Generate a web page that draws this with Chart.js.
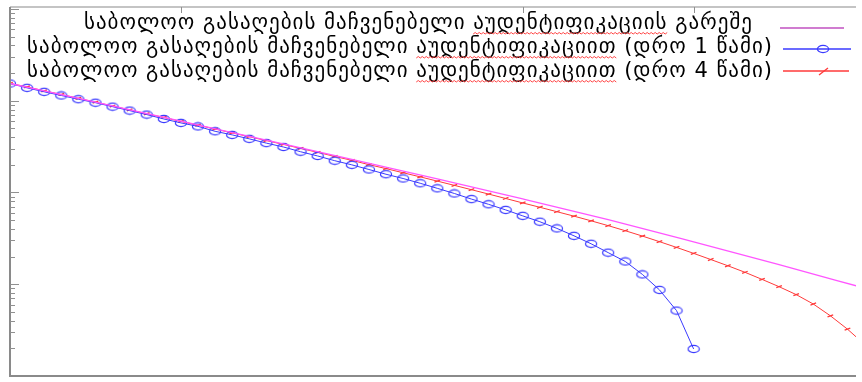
<!DOCTYPE html>
<html>
<head>
<meta charset="utf-8">
<title>გასაღების მაჩვენებელი</title>
<script src="https://cdn.jsdelivr.net/npm/chart.js"></script>
<style>
  html, body { margin: 0; padding: 0; background: #fff; }
  #wrap { width: 862px; height: 382px; }
</style>
</head>
<body>
<div id="wrap"><canvas id="keyChart" width="862" height="382"></canvas></div>
<script>
// series labels (legend)
const seriesNames = [
  'საბოლოო გასაღების მაჩვენებელი აუდენტიფიკაციის გარეშე',
  'საბოლოო გასაღების მაჩვენებელი აუდენტიფიკაციით (დრო 1 წამი)',
  'საბოლოო გასაღების მაჩვენებელი აუდენტიფიკაციით (დრო 4 წამი)'
];
// underlined (spell-check) word in each legend row
const markedWords = ['აუდენტიფიკაციის', 'აუდენტიფიკაციით', 'აუდენტიფიკაციით'];

// no authentication (magenta) - read every 5 steps
const stepsNoAuth = [0, 5, 10, 15, 20, 25, 30, 35, 40, 45, 50];
const rateNoAuth = [0.154, 0.0966, 0.0598, 0.0372, 0.0230, 0.01406, 0.00851, 0.00506, 0.00290, 0.00164, 0.000906];

// with authentication, 1 s (blue)
const steps1s = [0, 1, 2, 3, 4, 5, 6, 7, 8, 9, 10, 11, 12, 13, 14, 15, 16, 17, 18, 19, 20,
  21, 22, 23, 24, 25, 26, 27, 28, 29, 30, 31, 32, 33, 34, 35, 36, 37, 38, 39, 40];
const rate1s = [0.154, 0.138, 0.125, 0.114, 0.1038, 0.0951, 0.0861, 0.0780, 0.0706, 0.0632, 0.0573,
  0.0525, 0.0464, 0.0424, 0.0384, 0.0345, 0.0313, 0.0278, 0.0250, 0.0222, 0.0200,
  0.0178, 0.0158, 0.0142, 0.0126, 0.0111, 0.00975, 0.00847, 0.00743, 0.00646, 0.00556,
  0.00480, 0.00406, 0.00337, 0.00276, 0.00221, 0.00177, 0.00128, 0.000868, 0.000516, 0.000197];

// with authentication, 4 s (red)
const steps4s = [0, 1, 2, 3, 4, 5, 6, 7, 8, 9, 10, 11, 12, 13, 14, 15, 16, 17, 18, 19, 20,
  21, 22, 23, 24, 25, 26, 27, 28, 29, 30, 31, 32, 33, 34, 35, 36, 37, 38, 39, 40,
  41, 42, 43, 44, 45, 46, 47, 48, 49, 50];
const rate4s = [0.154, 0.1414, 0.1281, 0.1169, 0.1061, 0.0964, 0.0875, 0.0794, 0.0721, 0.0657, 0.0594,
  0.0541, 0.0491, 0.0446, 0.0405, 0.0368, 0.0334, 0.0302, 0.0274, 0.0247, 0.0224,
  0.0201, 0.0182, 0.0164, 0.0148, 0.0133, 0.01195, 0.01072, 0.00961, 0.00860, 0.00769,
  0.00690, 0.00617, 0.00552, 0.00491, 0.00435, 0.00383, 0.00335, 0.00291, 0.00252, 0.00217,
  0.00186, 0.00159, 0.00135, 0.00113, 0.000940, 0.000771, 0.000609, 0.000453, 0.000324, 0.000221];

// mirrored x ticks on the top border
const topTicks = [10, 30, 40];

const colNoAuth = '#ff55ff';
const col1s = '#3a3aff';
const col4s = '#ff3a3a';

const toXY = (xs, ys) => xs.map((x, i) => ({ x: x, y: ys[i] }));

// ellipse marker like the gnuplot circle
const ring = document.createElement('canvas');
ring.width = 14; ring.height = 10;
(function () {
  const c = ring.getContext('2d');
  c.strokeStyle = col1s;
  c.lineWidth = 1.2;
  c.beginPath();
  c.ellipse(7, 5, 5.6, 3.6, 0, 0, Math.PI * 2);
  c.stroke();
})();

const FONT = '21px "DejaVu Sans"';

const framePlugin = {
  id: 'frame',
  afterDraw(chart) {
    const { ctx, chartArea: a, scales } = chart;
    const ys = scales.y, xs = scales.x;
    ctx.save();
    // borders
    ctx.lineWidth = 1.5;
    ctx.strokeStyle = '#b0b0b0';
    ctx.beginPath(); ctx.moveTo(a.left, a.top); ctx.lineTo(a.right, a.top); ctx.stroke();
    ctx.strokeStyle = '#8a8a8a';
    ctx.lineWidth = 2;
    ctx.beginPath(); ctx.moveTo(a.left, a.top); ctx.lineTo(a.left, a.bottom); ctx.lineTo(a.right, a.bottom); ctx.stroke();
    // log ticks on left axis
    ctx.lineWidth = 1;
    ctx.strokeStyle = '#909090';
    for (let d = -4; d <= 0; d++) {
      for (let m = 1; m <= 9; m++) {
        const v = m * Math.pow(10, d);
        if (v <= ys.min || v >= ys.max) continue;
        const y = Math.round(ys.getPixelForValue(v)) + 0.5;
        ctx.beginPath();
        ctx.moveTo(a.left, y);
        ctx.lineTo(a.left + (m === 1 ? 9 : 5), y);
        ctx.stroke();
      }
    }
    // top ticks
    topTicks.forEach(t => {
      const x = Math.round(xs.getPixelForValue(t)) + 0.5;
      ctx.beginPath(); ctx.moveTo(x, a.top); ctx.lineTo(x, a.top + 6); ctx.stroke();
    });

    // gnuplot style key: text right aligned, sample after it
    const rows = [
      { y: 24, right: 753, lineY: 28 },
      { y: 48, right: 773, lineY: 49 },
      { y: 72, right: 773, lineY: 71 }
    ];
    ctx.font = FONT;
    ctx.letterSpacing = '1px';
    ctx.textBaseline = 'middle';
    ctx.textAlign = 'right';
    ctx.fillStyle = '#000';
    rows.forEach((r, i) => {
      ctx.fillText(seriesNames[i], r.right, r.y);
      // wavy underline under the flagged word
      const txt = seriesNames[i];
      const k = txt.indexOf(markedWords[i]);
      const tail = ctx.measureText(txt.slice(k)).width;
      const wlen = ctx.measureText(markedWords[i]).width;
      const x0 = r.right - tail, x1 = x0 + wlen;
      ctx.strokeStyle = '#ff4040';
      ctx.lineWidth = 1;
      ctx.beginPath();
      let up = true;
      ctx.moveTo(x0, r.y + 10);
      for (let x = x0 + 2; x <= x1; x += 2) {
        ctx.lineTo(x, r.y + (up ? 8.5 : 10));
        up = !up;
      }
      ctx.stroke();
    });
    ctx.letterSpacing = '0px';
    // samples
    ctx.lineWidth = 1.3;
    ctx.strokeStyle = '#c050c0';
    ctx.beginPath(); ctx.moveTo(780, rows[0].lineY); ctx.lineTo(844, rows[0].lineY); ctx.stroke();
    ctx.strokeStyle = col1s;
    ctx.beginPath(); ctx.moveTo(783, rows[1].lineY); ctx.lineTo(851, rows[1].lineY); ctx.stroke();
    ctx.drawImage(ring, 823 - 7, rows[1].lineY - 5);
    ctx.strokeStyle = col4s;
    ctx.beginPath(); ctx.moveTo(783, rows[2].lineY); ctx.lineTo(849, rows[2].lineY); ctx.stroke();
    ctx.beginPath(); ctx.moveTo(819, rows[2].lineY + 4); ctx.lineTo(828, rows[2].lineY - 3); ctx.stroke();
    ctx.restore();
  }
};

new Chart(document.getElementById('keyChart'), {
  type: 'line',
  data: {
    datasets: [
      {
        label: seriesNames[0],
        data: toXY(stepsNoAuth, rateNoAuth),
        borderColor: colNoAuth,
        borderWidth: 1.3,
        pointRadius: 0,
        cubicInterpolationMode: 'monotone',
        fill: false
      },
      {
        label: seriesNames[1],
        data: toXY(steps1s, rate1s),
        borderColor: col1s,
        borderWidth: 1,
        pointStyle: ring,
        pointRadius: 5,
        fill: false
      },
      {
        label: seriesNames[2],
        data: toXY(steps4s, rate4s),
        borderColor: col4s,
        borderWidth: 1,
        pointStyle: 'line',
        pointRadius: 3,
        pointRotation: -20,
        pointBorderColor: col4s,
        pointBorderWidth: 1.3,
        fill: false
      }
    ]
  },
  options: {
    responsive: false,
    animation: false,
    layout: { padding: { left: 10, top: 7, right: 0, bottom: 1 } },
    plugins: {
      legend: { display: false },
      tooltip: { enabled: false }
    },
    scales: {
      x: { type: 'linear', min: 0, max: 49.5, display: false },
      y: { type: 'logarithmic', min: 1e-4, max: 1.05, display: false }
    }
  },
  plugins: [framePlugin]
});
</script>
</body>
</html>
